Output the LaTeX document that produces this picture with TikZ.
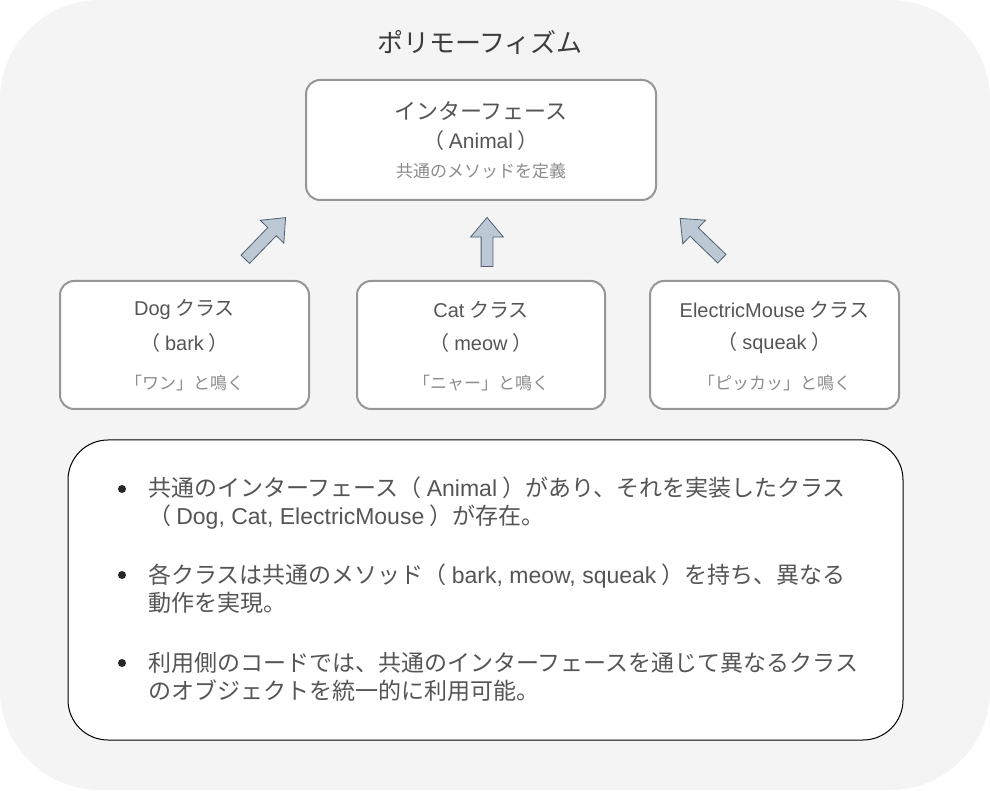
\documentclass[tikz,border=0pt]{standalone}
\usepackage{fontspec}
\setmainfont{Noto Sans CJK JP}
\newfontfamily\latfont{Liberation Sans}
\newcommand\lat[1]{{\latfont #1}}
\usetikzlibrary{arrows.meta, positioning, shapes.arrows}
\usepackage{xcolor}
\definecolor{panelbg}{RGB}{244,244,244}
\definecolor{boxline}{RGB}{150,150,150}
\definecolor{titletext}{RGB}{60,60,60}
\definecolor{maintext}{RGB}{85,85,85}
\definecolor{subtext}{RGB}{140,140,140}
\definecolor{arrowfill}{RGB}{188,200,212}
\definecolor{arrowline}{RGB}{80,96,112}

\tikzset{
  classbox/.style={draw=boxline, line width=2pt, fill=white,
                   rounded corners=14pt, inner sep=0pt},
  blockarrow/.style={single arrow, draw=arrowline, fill=arrowfill,
                     line width=0.8pt, inner xsep=0pt, inner ysep=5.5pt,
                     minimum width=32pt,
                     single arrow head extend=10.5pt,
                     single arrow tip angle=80},
  maintxt/.style={text=maintext, inner sep=0pt},
  subtxt/.style={text=subtext, inner sep=0pt,
                 font=\fontsize{17}{20}\selectfont},
  bullettxt/.style={text=maintext, inner sep=0pt, align=left, anchor=west,
                    font=\fontsize{23}{28}\selectfont},
  bulletdot/.style={circle, fill=black!85, inner sep=0pt, minimum size=8pt}
}

\begin{document}
\begin{tikzpicture}[x=1pt, y=1pt]
    % panel
    \fill[panelbg, rounded corners=100pt] (0,0) rectangle (990,790);
    \useasboundingbox (0,0) rectangle (990,790);
    \node[text=titletext, font=\fontsize{26}{30}\selectfont] (title)
      at (480,748) {ポリモーフィズム};

    % interface
    \node[classbox, minimum width=350pt, minimum height=120pt] (iface)
      at (481,650) {};
    \node[maintxt, font=\fontsize{22}{26}\selectfont] (ifname) at (481,679)
      {インターフェース};
    \node[maintxt, font=\fontsize{21}{26}\selectfont] (ifsub) at (481,649)
      {（ \lat{Animal} ）};
    \node[subtxt] (ifnote) at (481,619) {共通のメソッドを定義};

    % classes
    \node[classbox, minimum width=249pt, minimum height=128pt] (dog)
      at (184.5,445) {};
    \node[classbox, minimum width=248pt, minimum height=128pt] (cat)
      at (481,445) {};
    \node[classbox, minimum width=249pt, minimum height=128pt] (mouse)
      at (774.5,445) {};

    \node[maintxt, font=\fontsize{20}{24}\selectfont] (dogname) at (184.5,480)
      {\lat{Dog} クラス};
    \node[maintxt, font=\fontsize{20}{24}\selectfont] (dogsub) at (184.5,447)
      {（ \lat{bark} ）};
    \node[subtxt] (dognote) at (184.5,407) {「ワン」と鳴く};

    \node[maintxt, font=\fontsize{20}{24}\selectfont] (catname) at (481,480)
      {\lat{Cat} クラス};
    \node[maintxt, font=\fontsize{20}{24}\selectfont] (catsub) at (481,447)
      {（ \lat{meow} ）};
    \node[subtxt] (catnote) at (481,407) {「ニャー」と鳴く};

    \node[maintxt, font=\fontsize{20}{24}\selectfont] (mousename) at (774.5,480)
      {\lat{ElectricMouse} クラス};
    \node[maintxt, font=\fontsize{20}{24}\selectfont] (mousesub) at (774.5,447)
      {（ \lat{squeak} ）};
    \node[subtxt] (mousenote) at (774.5,407) {「ピッカッ」と鳴く};

    % arrows to interface
    \node[blockarrow, minimum height=58pt, rotate=46] (dogarrow)
      at (263,549) {};
    \node[blockarrow, minimum height=49pt, rotate=90] (catarrow)
      at (487,544.5) {};
    \node[blockarrow, minimum height=58pt, rotate=136] (mousearrow)
      at (703.5,549) {};

    % summary
    \node[draw=black, line width=1pt, fill=white, rounded corners=40pt,
          minimum width=835pt, minimum height=300pt, inner sep=0pt] (summary)
      at (485.5,200) {};
    \node[bulletdot] (dot1) at (122,301) {};
    \node[bullettxt] (item1) at (148,287)
      {共通のインターフェース（ \lat{Animal} ）があり、それを実装したクラス\\
       （ \lat{Dog, Cat, ElectricMouse} ）が存在。};
    \node[bulletdot] (dot2) at (122,215) {};
    \node[bullettxt] (item2) at (148,201)
      {各クラスは共通のメソッド（ \lat{bark, meow, squeak} ）を持ち、異なる\\
       動作を実現。};
    \node[bulletdot] (dot3) at (122,127) {};
    \node[bullettxt] (item3) at (148,113)
      {利用側のコードでは、共通のインターフェースを通じて異なるクラス\\
       のオブジェクトを統一的に利用可能。};
  \end{tikzpicture}
\end{document}
